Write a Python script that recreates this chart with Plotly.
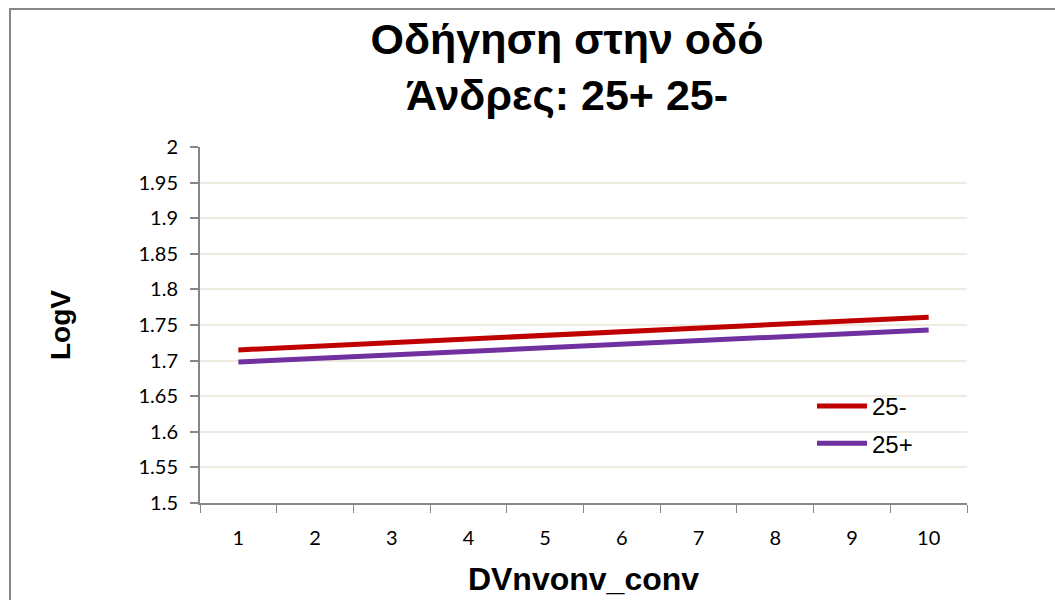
import plotly.graph_objects as go

# Category axis values and fitted LogV lines per age group
categories = ["1", "2", "3", "4", "5", "6", "7", "8", "9", "10"]
logv_under25 = [1.715, 1.720, 1.725, 1.730, 1.736, 1.741, 1.746, 1.751, 1.756, 1.761]
logv_over25 = [1.698, 1.703, 1.708, 1.713, 1.718, 1.723, 1.728, 1.733, 1.738, 1.743]
y_ticks = [1.5, 1.55, 1.6, 1.65, 1.7, 1.75, 1.8, 1.85, 1.9, 1.95, 2]
y_tick_text = ["1.5", "1.55", "1.6", "1.65", "1.7", "1.75", "1.8", "1.85", "1.9", "1.95", "2"]

W, H = 1055, 600
L, R, T, B = 200, 88, 147, 97
pw, ph = W - L - R, H - T - B

def px_x(x):
    return (x - L) / pw

def px_y(y):
    return (H - B - y) / ph

fig = go.Figure()
fig.add_trace(go.Scatter(
    x=categories, y=logv_under25, mode="lines", name="25-",
    legendgroup="a", line=dict(color="#C00000", width=5),
))
fig.add_trace(go.Scatter(
    x=categories, y=logv_over25, mode="lines", name="25+",
    legendgroup="b", line=dict(color="#7030A0", width=5),
))

tick_font = dict(family="Lato, Liberation Sans, Arial, sans-serif", size=20, color="#000000")
bold_family = "Liberation Sans, Arial, sans-serif"

fig.update_layout(
    width=W, height=H,
    margin=dict(l=L, r=R, t=T, b=B, autoexpand=False),
    paper_bgcolor="#FFFFFF",
    plot_bgcolor="#FFFFFF",
    font=dict(family=bold_family, color="#000000"),
    title=dict(
        text="<b>Οδήγηση στην οδό<br>Άνδρες: 25+ 25-</b>",
        font=dict(family=bold_family, size=43, color="#000000"),
        x=px_x(567), xref="paper", xanchor="center",
        y=1 - 54 / H, yref="container", yanchor="middle",
    ),
    xaxis=dict(
        type="category",
        range=[-0.5, 9.5],
        automargin=False,
        showgrid=False,
        showline=True, linecolor="#868686", linewidth=2,
        ticks="outside", tickson="boundaries", ticklen=8, tickcolor="#868686", tickwidth=1,
        tickfont=tick_font, ticklabelstandoff=16,
        title=dict(text="<b>DVnvonv_conv</b>",
                   font=dict(family=bold_family, size=32),
                   standoff=20),
        zeroline=False,
    ),
    yaxis=dict(
        range=[1.5, 2],
        automargin=False,
        tickvals=y_ticks, ticktext=y_tick_text,
        showgrid=True, gridcolor="#EEECE1", gridwidth=1.5,
        showline=True, linecolor="#868686", linewidth=2,
        ticks="outside", ticklen=8, tickcolor="#868686", tickwidth=1.5,
        tickfont=tick_font, ticklabelstandoff=8,
        title=dict(text="<b>LogV</b>",
                   font=dict(family=bold_family, size=28),
                   standoff=60),
        zeroline=False,
    ),
    legend=dict(
        x=px_x(812), y=px_y(384), xanchor="left", yanchor="top",
        bgcolor="rgba(0,0,0,0)",
        font=dict(family=bold_family, size=24, color="#000000"),
        traceorder="grouped", tracegroupgap=3,
        itemwidth=50,
    ),
    showlegend=True,
    shapes=[dict(
        type="rect", xref="paper", yref="paper",
        x0=px_x(10), x1=px_x(1070), y0=px_y(620), y1=px_y(9),
        line=dict(color="#868686", width=2), fillcolor="rgba(0,0,0,0)", layer="below",
    )],
)

fig.write_html("out.html")
